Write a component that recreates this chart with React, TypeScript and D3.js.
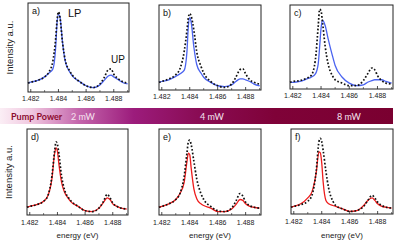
import React from "react";
import * as d3 from "d3";

const energy = [1.4818, 1.482, 1.4825, 1.483, 1.4833, 1.4836, 1.4838, 1.4839, 1.484, 1.4841, 1.4843, 1.4845, 1.4848, 1.485, 1.4855, 1.486, 1.4865, 1.487, 1.4873, 1.4876, 1.4878, 1.488, 1.4883, 1.4886, 1.489];

const theoryA = [0.1, 0.11, 0.13, 0.17, 0.22, 0.35, 0.6, 0.8, 0.9, 0.85, 0.55, 0.35, 0.24, 0.19, 0.12, 0.07, 0.05, 0.09, 0.16, 0.25, 0.26, 0.2, 0.15, 0.12, 0.1];
const measA = [0.1, 0.11, 0.13, 0.17, 0.21, 0.26, 0.5, 0.78, 0.87, 0.85, 0.55, 0.34, 0.23, 0.18, 0.12, 0.07, 0.05, 0.08, 0.13, 0.18, 0.19, 0.17, 0.14, 0.11, 0.09];
const theoryB = [0.09, 0.1, 0.13, 0.18, 0.25, 0.45, 0.7, 0.85, 0.9, 0.87, 0.7, 0.45, 0.28, 0.2, 0.1, 0.05, 0.03, 0.07, 0.15, 0.24, 0.25, 0.19, 0.12, 0.09, 0.07];
const measB = [0.09, 0.1, 0.12, 0.16, 0.19, 0.23, 0.45, 0.75, 0.85, 0.8, 0.5, 0.3, 0.2, 0.15, 0.09, 0.05, 0.04, 0.06, 0.1, 0.13, 0.13, 0.12, 0.1, 0.07, 0.05];
const theoryC = [0.08, 0.09, 0.1, 0.13, 0.16, 0.35, 0.75, 0.95, 0.93, 0.8, 0.5, 0.3, 0.16, 0.11, 0.07, 0.04, 0.04, 0.1, 0.18, 0.25, 0.23, 0.16, 0.1, 0.07, 0.06];
const measC = [0.08, 0.08, 0.09, 0.12, 0.14, 0.18, 0.3, 0.5, 0.72, 0.82, 0.75, 0.6, 0.4, 0.28, 0.14, 0.07, 0.04, 0.05, 0.08, 0.1, 0.11, 0.11, 0.11, 0.09, 0.07];
const theoryD = [0.09, 0.1, 0.12, 0.16, 0.22, 0.45, 0.75, 0.85, 0.82, 0.72, 0.45, 0.3, 0.2, 0.16, 0.1, 0.05, 0.04, 0.08, 0.15, 0.24, 0.2, 0.14, 0.1, 0.08, 0.07];
const measD = [0.09, 0.1, 0.12, 0.16, 0.22, 0.42, 0.72, 0.78, 0.74, 0.6, 0.38, 0.27, 0.19, 0.15, 0.1, 0.05, 0.04, 0.08, 0.14, 0.2, 0.18, 0.13, 0.1, 0.08, 0.07];
const theoryE = [0.09, 0.1, 0.13, 0.18, 0.25, 0.45, 0.72, 0.85, 0.87, 0.82, 0.62, 0.42, 0.25, 0.18, 0.1, 0.05, 0.04, 0.08, 0.16, 0.25, 0.22, 0.15, 0.11, 0.09, 0.08];
const measE = [0.09, 0.1, 0.13, 0.18, 0.25, 0.38, 0.62, 0.72, 0.7, 0.55, 0.3, 0.19, 0.13, 0.11, 0.08, 0.04, 0.04, 0.07, 0.12, 0.18, 0.17, 0.13, 0.1, 0.09, 0.08];
const theoryF = [0.08, 0.09, 0.11, 0.15, 0.22, 0.5, 0.85, 0.89, 0.85, 0.75, 0.5, 0.3, 0.15, 0.1, 0.06, 0.03, 0.04, 0.09, 0.16, 0.22, 0.19, 0.14, 0.1, 0.08, 0.07];
const measF = [0.08, 0.09, 0.12, 0.19, 0.26, 0.48, 0.73, 0.72, 0.6, 0.38, 0.16, 0.12, 0.1, 0.09, 0.06, 0.03, 0.04, 0.1, 0.16, 0.19, 0.16, 0.12, 0.09, 0.08, 0.07];

const tickValues = [1.482, 1.484, 1.486, 1.488];
const minorTicks = [1.483, 1.485, 1.487, 1.489];
const panelLabels = ["a)", "b)", "c)", "d)", "e)", "f)"];
const powerLabels = ["2 mW", "4 mW", "8 mW"];

const BLUE = "#4a63f0";
const RED = "#ee1c1c";

type Box = { x0: number; x1: number; y0: number; y1: number };

const boxes: Box[] = [
  { x0: 28, x1: 129, y0: 3, y1: 92 },
  { x0: 159, x1: 261, y0: 5, y1: 90 },
  { x0: 290, x1: 393, y0: 5, y1: 89 },
  { x0: 27, x1: 128, y0: 129, y1: 215 },
  { x0: 159, x1: 261, y0: 129, y1: 215 },
  { x0: 291, x1: 393, y0: 129, y1: 214 },
];

const series = [
  [theoryA, measA, BLUE],
  [theoryB, measB, BLUE],
  [theoryC, measC, BLUE],
  [theoryD, measD, RED],
  [theoryE, measE, RED],
  [theoryF, measF, RED],
] as [number[], number[], string][];

const FONT = "'Liberation Sans', Arial, sans-serif";

function Panel({ i }: { i: number }) {
  const b = boxes[i];
  const x = d3.scaleLinear().domain([1.4818, 1.4891]).range([b.x0, b.x1]);
  const y = d3.scaleLinear().domain([0, 1]).range([b.y1, b.y0]);
  const [th, me, col] = series[i];
  const line = d3
    .line<number>()
    .x((_, k) => x(energy[k]))
    .y((v) => y(v))
    .curve(d3.curveMonotoneX);
  const bottomRow = i >= 3;
  return (
    <g>
      <rect x={b.x0} y={b.y0} width={b.x1 - b.x0} height={b.y1 - b.y0} fill="white" stroke="#222" strokeWidth={1} />
      <path d={line(me) || ""} fill="none" stroke={col} strokeWidth={1.3} />
      <path d={line(th) || ""} fill="none" stroke="#111" strokeWidth={1.7} strokeDasharray="1.7,1.9" />
      {tickValues.map((t) => (
        <g key={t}>
          <line x1={x(t)} x2={x(t)} y1={b.y1} y2={b.y1 - 3} stroke="#222" strokeWidth={0.8} />
          <text x={x(t)} y={b.y1 + (bottomRow ? 10 : 9)} fontSize={7} fontFamily={FONT} textAnchor="middle" fill="#222">
            {t.toFixed(3)}
          </text>
        </g>
      ))}
      {minorTicks.map((t) =>
        x(t) < b.x1 ? <line key={t} x1={x(t)} x2={x(t)} y1={b.y1} y2={b.y1 - 2} stroke="#222" strokeWidth={0.6} /> : null
      )}
      <text x={b.x0 + 4} y={b.y0 + 11} fontSize={9} fontFamily={FONT} fill="#111">
        {panelLabels[i]}
      </text>
      {i % 3 === 0 ? (
        <text
          transform={`translate(${b.x0 - 15},${(b.y0 + b.y1) / 2}) rotate(-90)`}
          fontSize={9.5}
          fontFamily={FONT}
          textAnchor="middle"
          fill="#222"
        >
          Intensity a.u.
        </text>
      ) : null}
      {bottomRow ? (
        <text x={(b.x0 + b.x1) / 2} y={238} fontSize={8} fontFamily={FONT} textAnchor="middle" fill="#222">
          energy (eV)
        </text>
      ) : null}
    </g>
  );
}

export default function App() {
  return (
    <svg width={407} height={243} style={{ position: "absolute", left: 0, top: 0, background: "white" }}>
      <defs>
        <linearGradient id="pump" x1="0" x2="1" y1="0" y2="0">
          <stop offset="0" stopColor="#fbeef5" />
          <stop offset="0.08" stopColor="#f0c8e0" />
          <stop offset="0.2" stopColor="#c466ac" />
          <stop offset="0.34" stopColor="#9c1c7c" />
          <stop offset="0.5" stopColor="#8a0c55" />
          <stop offset="0.7" stopColor="#7f0238" />
          <stop offset="1" stopColor="#7a0030" />
        </linearGradient>
      </defs>
      <rect x={0} y={108} width={393} height={16} fill="url(#pump)" />
      <text x={11} y={119.5} fontSize={9} fontWeight="bold" fontFamily="Lato, 'Open Sans', sans-serif" fill="#8c0b2e">
        Pump Power
      </text>
      <text x={71} y={119.5} fontSize={9} fontFamily="Lato, 'Open Sans', sans-serif" fill="#f6e4f0">
        {powerLabels[0]}
      </text>
      <text x={212} y={119.5} fontSize={9} fontFamily="Lato, 'Open Sans', sans-serif" fill="#f6e4f0" textAnchor="middle">
        {powerLabels[1]}
      </text>
      <text x={349} y={119.5} fontSize={9} fontFamily="Lato, 'Open Sans', sans-serif" fill="#f6e4f0" textAnchor="middle">
        {powerLabels[2]}
      </text>
      {boxes.map((_, i) => (
        <Panel key={i} i={i} />
      ))}
      <text x={68} y={17} fontSize={11} fontFamily={FONT} fill="#111">LP</text>
      <text x={111} y={63} fontSize={10} fontFamily={FONT} fill="#111">UP</text>
    </svg>
  );
}
